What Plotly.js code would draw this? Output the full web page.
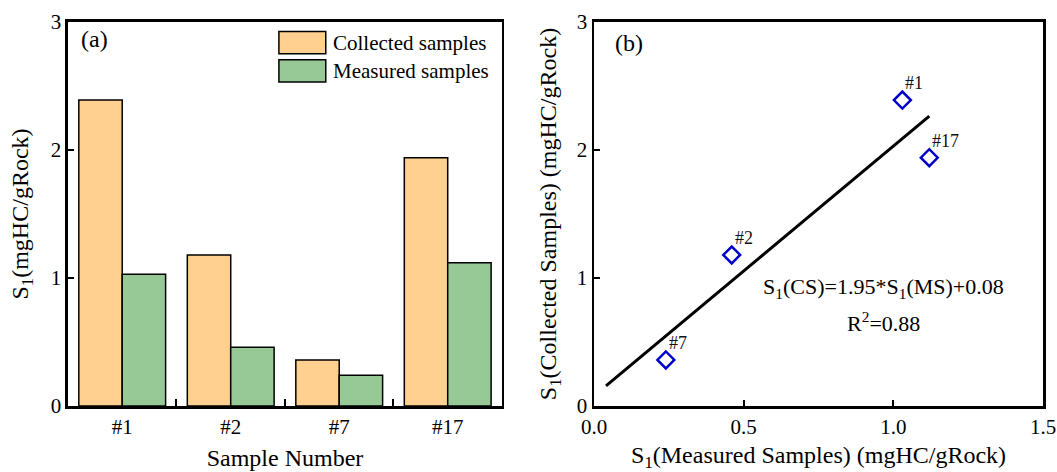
<!DOCTYPE html>
<html>
<head>
<meta charset="utf-8">
<script src="https://cdn.plot.ly/plotly-3.0.1.min.js"></script>
<style>
  html, body { margin: 0; padding: 0; background: #ffffff; }
  #chart { width: 1057px; height: 472px; }
</style>
</head>
<body>
<div id="chart"></div>
<script>
// Sample identifiers and S1 values (mgHC/gRock)
const samples = ['#1', '#2', '#7', '#17'];
const collectedS1 = [2.39, 1.18, 0.36, 1.94];
const measuredS1 = [1.03, 0.46, 0.24, 1.12];
const seriesNames = ['Collected samples', 'Measured samples'];

// Linear fit of collected vs measured samples
const fitSlope = 1.95;
const fitIntercept = 0.08;
const fitR2 = 0.88;
const fitXRange = [0.04, 1.12];

const serif = 'Liberation Serif';
const seriesColors = ['#FFD08F', '#96C996'];
const markerBlue = '#0000C8';

const fitY = fitXRange.map(x => fitSlope * x + fitIntercept);

const data = [
  {
    type: 'bar', name: seriesNames[0],
    x: samples, y: collectedS1, xaxis: 'x', yaxis: 'y',
    marker: { color: seriesColors[0], line: { color: '#000', width: 1.5 } }
  },
  {
    type: 'bar', name: seriesNames[1],
    x: samples, y: measuredS1, xaxis: 'x', yaxis: 'y',
    marker: { color: seriesColors[1], line: { color: '#000', width: 1.5 } }
  },
  {
    type: 'scatter', mode: 'lines',
    x: fitXRange, y: fitY, xaxis: 'x2', yaxis: 'y2',
    line: { color: '#000', width: 3 }
  },
  {
    type: 'scatter', mode: 'markers',
    x: measuredS1, y: collectedS1, xaxis: 'x2', yaxis: 'y2',
    marker: { symbol: 'diamond-open', size: 13, color: markerBlue, line: { width: 2.5, color: markerBlue } }
  }
];

const frame = {
  showline: true, mirror: true, linecolor: '#000', linewidth: 2.5,
  showgrid: false, zeroline: false,
  ticks: 'inside', ticklen: 6, tickwidth: 2, tickcolor: '#000',
  tickfont: { family: serif, size: 21, color: '#000' }
};

// Sample labels beside each scatter point
const pointLabels = samples.map((s, i) => ({
  xref: 'x2', yref: 'y2', x: measuredS1[i], y: collectedS1[i],
  text: s, showarrow: false, xanchor: 'left', yanchor: 'bottom',
  xshift: 1, yshift: 5,
  font: { family: serif, size: 18, color: '#111' }
}));

// Key for the bar panel: boxed swatches with labels, top right
const keyRows = [0.946, 0.873];
const keyShapes = seriesNames.map((n, i) => ({
  type: 'rect', xref: 'x domain', yref: 'y domain',
  x0: 0.486, x1: 0.594, y0: keyRows[i] - 0.029, y1: keyRows[i] + 0.029,
  fillcolor: seriesColors[i], line: { color: '#000', width: 1.5 }
}));
const keyLabels = seriesNames.map((n, i) => ({
  xref: 'x domain', yref: 'y domain', x: 0.606, y: keyRows[i],
  xanchor: 'left', yanchor: 'middle', text: n, showarrow: false,
  font: { family: serif, size: 21, color: '#000' }
}));

const layout = {
  width: 1057, height: 472,
  margin: { l: 0, r: 0, t: 0, b: 0 },
  paper_bgcolor: '#ffffff', plot_bgcolor: '#ffffff',
  font: { family: serif, color: '#000' },
  showlegend: false,
  barmode: 'group', bargap: 0.2, bargroupgap: 0,
  xaxis: Object.assign({}, frame, {
    domain: [0.0643, 0.4749], anchor: 'y',
    type: 'category', tickson: 'boundaries', ticklen: 7,
    title: { text: 'Sample Number', font: { family: serif, size: 24 }, standoff: 12 }
  }),
  yaxis: Object.assign({}, frame, {
    domain: [0.1398, 0.9534], anchor: 'x',
    range: [0, 3], tickvals: [0, 1, 2, 3],
    title: { text: 'S<sub>1</sub>(mgHC/gRock)', font: { family: serif, size: 24 }, standoff: 16 }
  }),
  xaxis2: Object.assign({}, frame, {
    domain: [0.5620, 0.9868], anchor: 'y2',
    range: [0, 1.5], dtick: 0.5, tickformat: '.1f',
    title: { text: 'S<sub>1</sub>(Measured Samples) (mgHC/gRock)', font: { family: serif, size: 24 }, standoff: 12 }
  }),
  yaxis2: Object.assign({}, frame, {
    domain: [0.1398, 0.9534], anchor: 'x2',
    range: [0, 3], tickvals: [0, 1, 2, 3],
    title: { text: 'S<sub>1</sub>(Collected Samples) (mgHC/gRock)', font: { family: serif, size: 24 }, standoff: 14 }
  }),
  shapes: keyShapes,
  annotations: [
    { xref: 'x domain', yref: 'y domain', x: 0.025, y: 0.995, xanchor: 'left', yanchor: 'top',
      text: '(a)', showarrow: false, font: { family: serif, size: 24, color: '#000' } },
    { xref: 'x2 domain', yref: 'y2 domain', x: 0.042, y: 0.985, xanchor: 'left', yanchor: 'top',
      text: '(b)', showarrow: false, font: { family: serif, size: 24, color: '#000' } },
    { xref: 'x2', yref: 'y2', x: 0.967, y: 0.92, xanchor: 'center', yanchor: 'middle',
      text: 'S<sub>1</sub>(CS)=' + fitSlope.toFixed(2) + '*S<sub>1</sub>(MS)+' + fitIntercept.toFixed(2),
      showarrow: false, font: { family: serif, size: 22, color: '#000' } },
    { xref: 'x2', yref: 'y2', x: 0.967, y: 0.655, xanchor: 'center', yanchor: 'middle',
      text: 'R<sup>2</sup>=' + fitR2.toFixed(2),
      showarrow: false, font: { family: serif, size: 22, color: '#000' } }
  ].concat(keyLabels, pointLabels)
};

Plotly.newPlot('chart', data, layout, { staticPlot: true, displayModeBar: false });
</script>
</body>
</html>
